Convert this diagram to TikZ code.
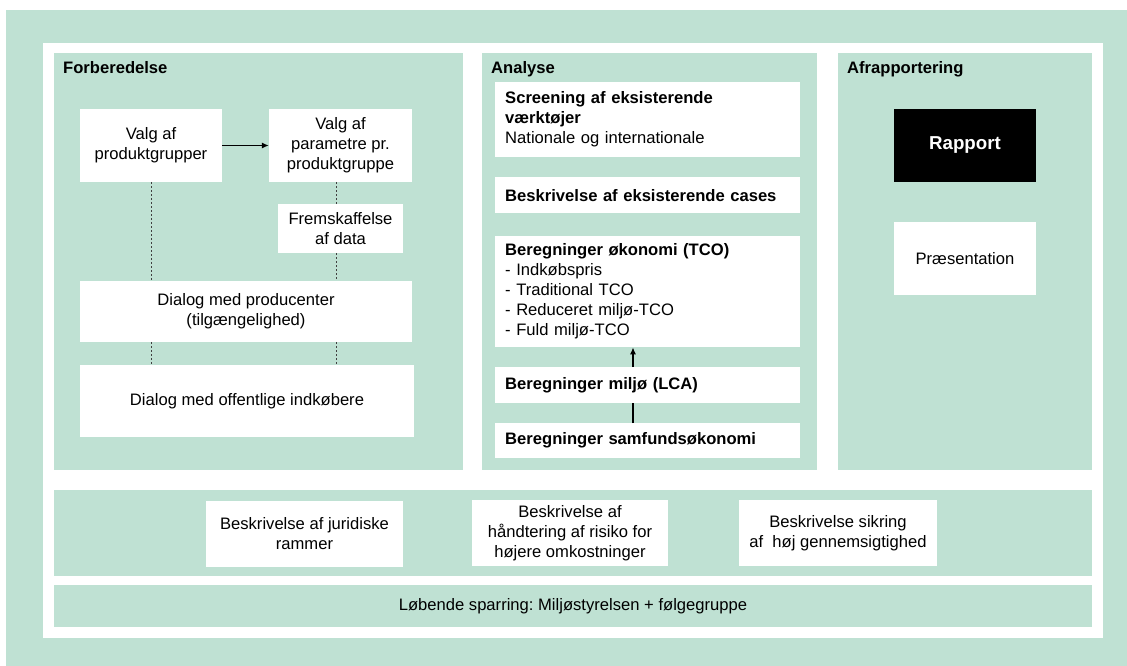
\documentclass[tikz,border=0pt]{standalone}
\usepackage{fontspec}
\setmainfont{Liberation Sans}
\usepackage{xcolor}
\usetikzlibrary{arrows.meta,positioning}
\definecolor{fmint}{HTML}{BFE1D3}
\frenchspacing

\begin{document}
\begin{tikzpicture}[x=1pt, y=-1pt, font=\fontsize{16.6}{20}\selectfont,
  wbox/.style={fill=white, inner sep=0pt, align=center},
  lbox/.style={fill=white, inner xsep=10pt, inner ysep=0pt, align=left,
    anchor=north west, text width=285pt},
  ptitle/.style={font=\fontsize{16.6}{20}\selectfont\bfseries, anchor=base west, inner sep=0pt},
  link/.style={line width=0.8pt, dash pattern=on 2pt off 2pt, black!75},
  flow/.style={line width=1.2pt, -{Latex[length=7pt,width=6pt]}}]
\useasboundingbox (0,0) rectangle (1127,666);
% ---------- background and frame ----------
\fill[fmint] (6,10) rectangle (1127,666);
\fill[white] (43,43) rectangle (1103,638);
\fill[fmint] (54,53)  rectangle (463,470);
\fill[fmint] (482,53) rectangle (817,470);
\fill[fmint] (838,53) rectangle (1092,470);
\fill[fmint] (54,490) rectangle (1092,576);
\node[ptitle] (tforb) at (63,74)  {Forberedelse};
\node[ptitle] (tana)  at (491,74) {Analyse};
\node[ptitle] (tafr)  at (847,74) {Afrapportering};
% ---------- left: forberedelse ----------
\node[wbox, minimum width=142, minimum height=73] (valg)  at (151,145.5) {Valg af\\produktgrupper};
\node[wbox, minimum width=143, minimum height=73] (param) at (340.5,145.5) {Valg af\\parametre pr.\\produktgruppe};
\node[wbox, minimum width=125, minimum height=49] (data)  at (340.5,228.5) {Fremskaffelse\\af data};
\node[wbox, minimum width=332, minimum height=61] (prod)  at (246,311.5) {Dialog med producenter\\(tilgængelighed)};
\node[wbox, minimum width=334, minimum height=72] (indk)  at (247,401) {Dialog med offentlige indkøbere};
\draw[flow] (valg.east) -- (param.west);
\coordinate (xr) at (336,0);
\draw[link] (valg.south) -- (valg.south |- prod.north);
\draw[link] (valg.south |- prod.south) -- (valg.south |- indk.north);
\draw[link] (xr |- param.south) -- (xr |- data.north);
\draw[link] (xr |- data.south) -- (xr |- prod.north);
\draw[link] (xr |- prod.south) -- (xr |- indk.north);
% ---------- middle: analyse ----------
\node[lbox, minimum height=75] (screen) at (495,82)
  {\textbf{Screening af eksisterende}\\\textbf{værktøjer}\\Nationale og internationale};
\node[lbox, minimum height=36] (cases) at (495,177) {\textbf{Beskrivelse af eksisterende cases}};
\node[lbox, minimum height=111] (tco) at (495,236)
  {\textbf{Beregninger økonomi (TCO)}\\- Indkøbspris\\- Traditional TCO\\- Reduceret miljø-TCO\\- Fuld miljø-TCO};
\node[lbox, minimum height=36] (lca) at (495,367) {\textbf{Beregninger miljø (LCA)}};
\node[lbox, minimum height=35] (samf) at (495,423) {\textbf{Beregninger samfundsøkonomi}};
\coordinate (xa) at (633,0);
\draw[flow] (xa |- lca.north) -- (xa |- tco.south);
\draw[line width=1.2pt] (xa |- samf.north) -- (xa |- lca.south);
% ---------- right: afrapportering ----------
\node[wbox, fill=black, text=white, font=\fontsize{18.7}{22}\selectfont\bfseries,
  minimum width=142, minimum height=73] (rapport) at (965,145.5) {Rapport};
\node[wbox, minimum width=142, minimum height=73] (praes) at (965,258.5) {Præsentation};
% ---------- bottom strips ----------
\node[wbox, minimum width=197, minimum height=66] (jura) at (304.5,534) {Beskrivelse af juridiske\\rammer};
\node[wbox, minimum width=196, minimum height=66] (risiko) at (570,533) {Beskrivelse af\\håndtering af risiko for\\højere omkostninger};
\node[wbox, minimum width=198, minimum height=66] (gennem) at (838,533) {Beskrivelse sikring\\af\ \ høj gennemsigtighed};
\node[fill=fmint, inner sep=0pt, minimum width=1038, minimum height=42] (spar) at (573,606)
  {Løbende sparring: Miljøstyrelsen + følgegruppe};
\end{tikzpicture}
\end{document}
